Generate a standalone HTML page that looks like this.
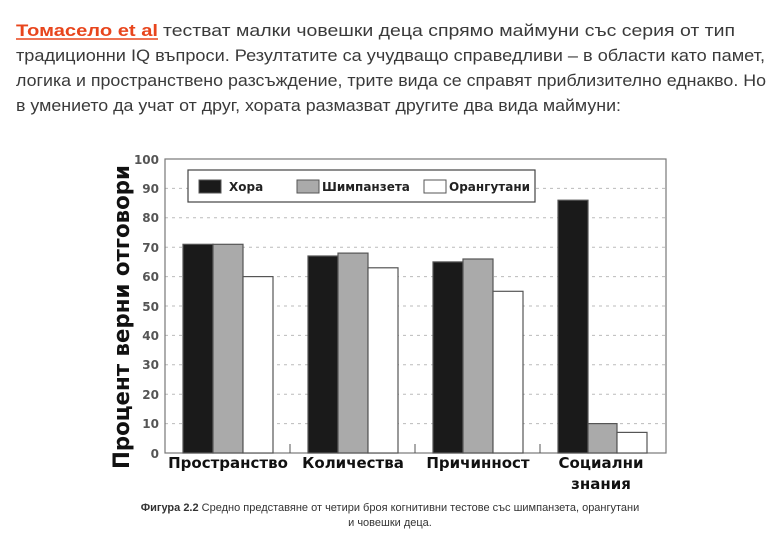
<!DOCTYPE html>
<html><head><meta charset="utf-8"><style>
body{margin:0;width:783px;height:540px;background:#fff;overflow:hidden;position:relative;font-family:"Liberation Sans","DejaVu Sans",sans-serif}
</style></head><body>
<svg width="783" height="540" style="position:absolute;left:0;top:0" font-family="DejaVu Sans, Liberation Sans, sans-serif">
<g font-size="17" fill="#3a3a3a" font-family="Liberation Sans, DejaVu Sans, sans-serif">
<text x="16" y="36" font-weight="bold" fill="#e8451c" textLength="142" lengthAdjust="spacingAndGlyphs">Томасело et al</text>
<line x1="16" x2="158" y1="39" y2="39" stroke="#e8451c" stroke-width="1.5"/>
<text x="163" y="36" textLength="572" lengthAdjust="spacingAndGlyphs">тестват малки човешки деца спрямо маймуни със серия от тип</text>
<text x="16" y="61" textLength="749" lengthAdjust="spacingAndGlyphs">традиционни IQ въпроси. Резултатите са учудващо справедливи – в области като памет,</text>
<text x="16" y="86" textLength="750" lengthAdjust="spacingAndGlyphs">логика и пространствено разсъждение, трите вида се справят приблизително еднакво. Но</text>
<text x="16" y="111" textLength="605" lengthAdjust="spacingAndGlyphs">в умението да учат от друг, хората размазват другите два вида маймуни:</text>
</g>
<g stroke="#bbb" stroke-dasharray="3,4" stroke-width="1">
<line x1="165" x2="666" y1="188.4" y2="188.4"/><line x1="165" x2="666" y1="217.8" y2="217.8"/><line x1="165" x2="666" y1="247.2" y2="247.2"/><line x1="165" x2="666" y1="276.6" y2="276.6"/><line x1="165" x2="666" y1="306" y2="306"/><line x1="165" x2="666" y1="335.4" y2="335.4"/><line x1="165" x2="666" y1="364.8" y2="364.8"/><line x1="165" x2="666" y1="394.2" y2="394.2"/><line x1="165" x2="666" y1="423.6" y2="423.6"/>
</g>
<rect x="165" y="159" width="501" height="294" fill="none" stroke="#777" stroke-width="1.2"/>
<g fill="#555" font-size="12" text-anchor="end" font-weight="bold">
<text x="159" y="164">100</text><text x="159" y="193">90</text><text x="159" y="222">80</text><text x="159" y="252">70</text><text x="159" y="281">60</text><text x="159" y="311">50</text><text x="159" y="340">40</text><text x="159" y="369">30</text><text x="159" y="399">20</text><text x="159" y="428">10</text><text x="159" y="458">0</text>
</g>
<g stroke="#555" stroke-width="1"><line x1="290" x2="290" y1="444" y2="453"/><line x1="415" x2="415" y1="444" y2="453"/><line x1="540" x2="540" y1="444" y2="453"/></g>
<g stroke="#555" stroke-width="1.2">
<rect x="183" y="244.3" width="30" height="208.7" fill="#1a1a1a"/><rect x="213" y="244.3" width="30" height="208.7" fill="#aaa"/><rect x="243" y="276.6" width="30" height="176.4" fill="#fff"/>
<rect x="308" y="256" width="30" height="197" fill="#1a1a1a"/><rect x="338" y="253.1" width="30" height="199.9" fill="#aaa"/><rect x="368" y="267.8" width="30" height="185.2" fill="#fff"/>
<rect x="433" y="261.9" width="30" height="191.1" fill="#1a1a1a"/><rect x="463" y="259" width="30" height="194" fill="#aaa"/><rect x="493" y="291.3" width="30" height="161.7" fill="#fff"/>
<rect x="558" y="200.2" width="30" height="252.8" fill="#1a1a1a"/><rect x="588" y="423.6" width="29" height="29.4" fill="#aaa"/><rect x="617" y="432.4" width="30" height="20.6" fill="#fff"/>
</g>
<rect x="188" y="170" width="347" height="32" fill="#fff" stroke="#444" stroke-width="1.2"/>
<rect x="199" y="180" width="22" height="13" fill="#1a1a1a" stroke="#555"/>
<rect x="297" y="180" width="22" height="13" fill="#aaa" stroke="#555"/>
<rect x="424" y="180" width="22" height="13" fill="#fff" stroke="#555"/>
<g font-size="12" font-weight="bold" fill="#222"><text x="229" y="191">Хора</text><text x="322" y="191">Шимпанзета</text><text x="449" y="191">Орангутани</text></g>
<g font-size="15" font-weight="bold" fill="#111" text-anchor="middle">
<text x="228" y="468">Пространство</text><text x="353" y="468">Количества</text><text x="478" y="468">Причинност</text><text x="601" y="468">Социални</text><text x="601" y="489">знания</text>
</g>
<text transform="translate(129,317) rotate(-90)" text-anchor="middle" font-size="22" font-weight="bold" fill="#111" textLength="304" lengthAdjust="spacingAndGlyphs">Процент верни отговори</text>
<text x="390" y="511" text-anchor="middle" font-size="11" fill="#333" font-family="Liberation Sans, sans-serif"><tspan font-weight="bold">Фигура 2.2</tspan> Средно представяне от четири броя когнитивни тестове със шимпанзета, орангутани</text>
<text x="390" y="526" text-anchor="middle" font-size="11" fill="#333" font-family="Liberation Sans, sans-serif">и човешки деца.</text>
</svg>
</body></html>
